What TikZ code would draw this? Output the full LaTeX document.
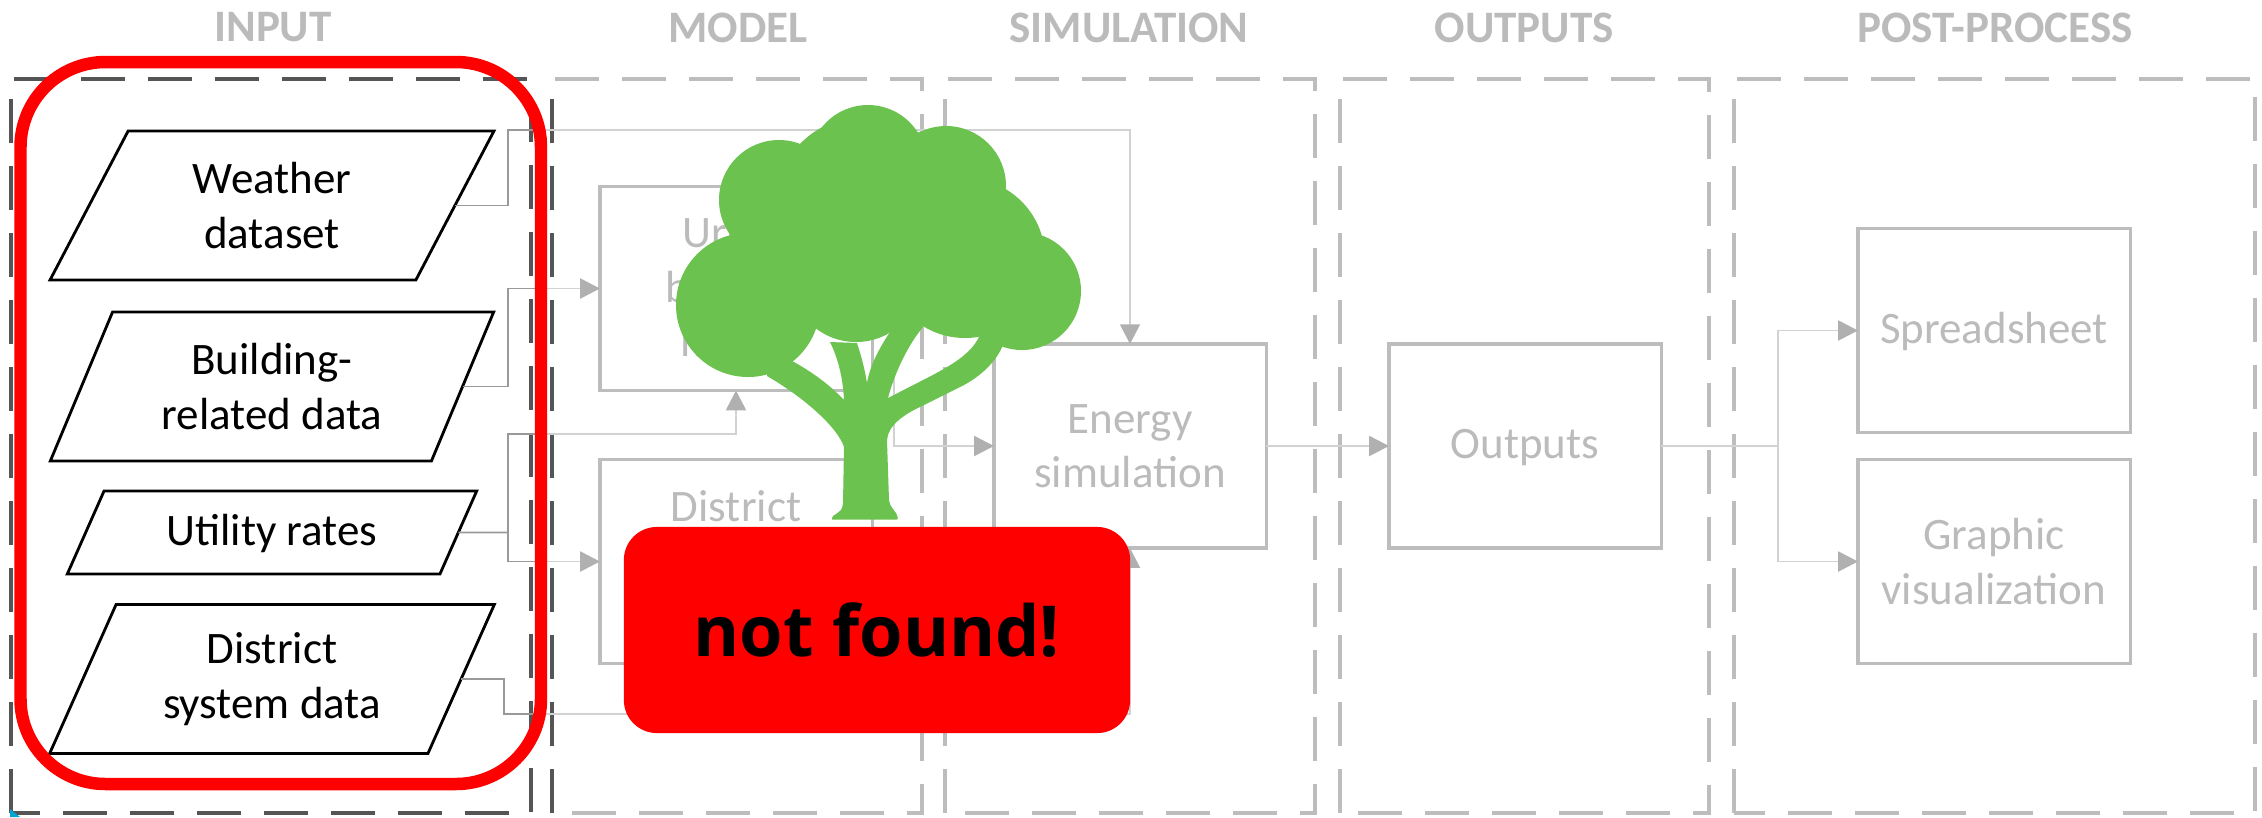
\documentclass[tikz,border=0pt]{standalone}
\usepackage{fontspec}
\setmainfont{Carlito}
\newfontfamily\alertfont{Open Sans}
\usetikzlibrary{shapes.geometric,arrows.meta}
\definecolor{framedark}{HTML}{555555}
\definecolor{framelight}{HTML}{BDBDBD}
\definecolor{linkdark}{HTML}{999999}
\definecolor{linklight}{HTML}{D2D2D2}
\definecolor{tipgray}{HTML}{B0B0B0}
\definecolor{textgray}{HTML}{BBBBBB}
\definecolor{treegreen}{HTML}{6CC24F}
\definecolor{alertred}{HTML}{FF0000}
\definecolor{markcyan}{HTML}{00A6D6}
\tikzset{
  frame/.style={line width=0.95pt, dash pattern=on 12.55pt off 6.5pt},
  heading/.style={text=textgray, font=\bfseries\fontsize{12.8}{15}\selectfont},
  datanode/.style={draw=black, line width=0.8pt, trapezium, trapezium left angle=63.4,
    trapezium right angle=116.6, trapezium stretches=true, inner sep=0pt, outer sep=0pt,
    minimum width=4.455cm, minimum height=1.49cm, align=center,
    font=\fontsize{12.8}{15.5}\selectfont},
  procnode/.style={draw=framelight, line width=0.9pt, inner sep=0pt, outer sep=0pt,
    minimum width=2.72cm, minimum height=2.04cm, align=center, text=textgray,
    font=\fontsize{12.8}{15.5}\selectfont},
  proclabel/.style={text=textgray, align=center, inner sep=0pt, font=\fontsize{12.8}{15.5}\selectfont},
  oneline/.style={text height=10.1pt, text depth=3pt},
  linkin/.style={draw=linkdark, line width=0.5pt},
  linkout/.style={draw=linklight, line width=0.5pt},
  linktip/.style={linkout, -{Triangle[length=5.6pt,width=5.7pt,color=tipgray]}}
}
\begin{document}
\begin{tikzpicture}[x=0.01cm, y=-0.01cm]
  \useasboundingbox (0,0) rectangle (2262,817);

  \node[heading] (headinput) at (273,27.5) {INPUT};
  \node[heading] (headmodel) at (738,27.5) {MODEL};
  \node[heading] (headsim) at (1129,27.5) {SIMULATION};
  \node[heading] (headout) at (1524,27.5) {OUTPUTS};
  \node[heading] (headpost) at (1995,27.5) {POST-PROCESS};

  \draw[frame, framelight] (552,813) -- (552,79) -- (922,79) -- (922,813) -- cycle;
  \draw[frame, framelight] (945,813) -- (945,79) -- (1315,79) -- (1315,813) -- cycle;
  \draw[frame, framelight] (1340,813) -- (1340,79) -- (1709,79) -- (1709,813) -- cycle;
  \draw[frame, framelight] (1734,813) -- (1734,79) -- (2255,79) -- (2255,813) -- cycle;
  \draw[frame, framedark] (11,813) -- (11,79) -- (531,79) -- (531,813) -- cycle;
  \draw[frame, framedark] (552,813) -- (552,79);
  \fill[markcyan] (10,809) -- (20,817) -- (10,817) -- cycle;

  \node[datanode] (weather) at (272,205.5) {Weather\\dataset};
  \node[datanode] (building) at (272,386.5) {Building-\\related data};
  \node[datanode, oneline, minimum width=4.12cm, minimum height=0.83cm] (utility) at (272,532.5) {Utility rates};
  \node[datanode] (districtdata) at (272,679) {District\\system data};

  \node[procnode] (urban) at (736,288.5) {};
  \node[proclabel] (urbanlabel) at (739,287) {Urban\\building\\model};
  \node[procnode] (district) at (736,561.5) {};
  \node[proclabel] (districtlabel) at (736,506) {District};
  \node[procnode] (energy) at (1130,446) {Energy\\simulation};
  \node[procnode, oneline] (outputs) at (1525,446) {Outputs};
  \node[procnode, oneline] (sheet) at (1994,330.5) {Spreadsheet};
  \node[procnode] (graphic) at (1994,561.5) {Graphic\\visualization};

  \coordinate (weatherup) at (508,130);
  \coordinate (weatheredge) at (545,130);
  \coordinate (buildup) at (508,288.5);
  \coordinate (buildedge) at (545,288.5);
  \coordinate (utiljoin) at (508,532.5);
  \coordinate (utiltop) at (508,434);
  \coordinate (utiltopedge) at (545,434);
  \coordinate (utillow) at (508,561.5);
  \coordinate (utillowedge) at (545,561.5);
  \coordinate (systemdown) at (504,714);
  \coordinate (systemedge) at (545,714);
  \coordinate (urbanturn) at (894,288.5);
  \coordinate (postjoin) at (1778,446);

  \draw[linkin] (weather.east) -| (weatherup) -- (weatheredge);
  \draw[linktip] (weatheredge) -| (energy.north);
  \draw[linkin] (building.east) -| (buildup) -- (buildedge);
  \draw[linktip] (buildedge) -- (urban.west);
  \draw[linkin] (utility.east) -- (utiljoin);
  \draw[linkin] (utiltopedge) -- (utiltop) -- (utillow) -- (utillowedge);
  \draw[linktip] (utiltopedge) -| (urban.south);
  \draw[linktip] (utillowedge) -- (district.west);
  \draw[linkin] (districtdata.east) -| (systemdown) -- (systemedge);
  \draw[linktip] (systemedge) -| (energy.south);
  \draw[linktip] (urban.east) -- (urbanturn) |- (energy.west);
  \draw[linktip] (energy.east) -- (outputs.west);
  \draw[linkout] (outputs.east) -- (postjoin);
  \draw[linktip] (postjoin) |- (sheet.west);
  \draw[linktip] (postjoin) |- (graphic.west);

  \draw[line width=3.55pt, alertred, rounded corners=0.85cm] (20.5,62) rectangle (541,784);

  \fill[treegreen] (868,164) circle (59) (779,200) circle (60) (946,186) circle (60)
    (748,305) circle (72) (1022,291) circle (59) (965,258) circle (80)
    (856,276) circle (66) (866,208) circle (92);
  \fill[treegreen] (843,503) .. controls (842,510) .. (833,516) .. controls (831,520) .. (838,519.5)
    -- (892,519.5) .. controls (899,520) .. (896,513) .. controls (890,505) .. (889,500)
    -- (887,440) .. controls (888,425) and (905,414) .. (920,407)
    -- (960,387) .. controls (975,380) and (995,365) .. (1003,345)
    -- (990,320) -- (979,337) .. controls (970,355) and (950,366) .. (927,378)
    -- (888,398) .. controls (895,372) and (908,345) .. (923,327)
    -- (905,295) -- (890,332) .. controls (880,347) and (870,365) .. (867,383)
    .. controls (865,370) and (861,355) .. (857,343)
    -- (830,342) .. controls (838,358) and (843,378) .. (844,400)
    .. controls (830,385) and (812,372) .. (794,362)
    -- (770,350) -- (767,376) .. controls (805,398) and (838,428) .. (844,447) -- cycle;

  \node[fill=alertred, rounded corners=0.33cm, inner sep=0pt, minimum width=5.06cm,
    minimum height=2.06cm, font=\alertfont\bfseries\fontsize{20}{24}\selectfont] (notfound) at (877,630) {not found!};
\end{tikzpicture}
\end{document}
